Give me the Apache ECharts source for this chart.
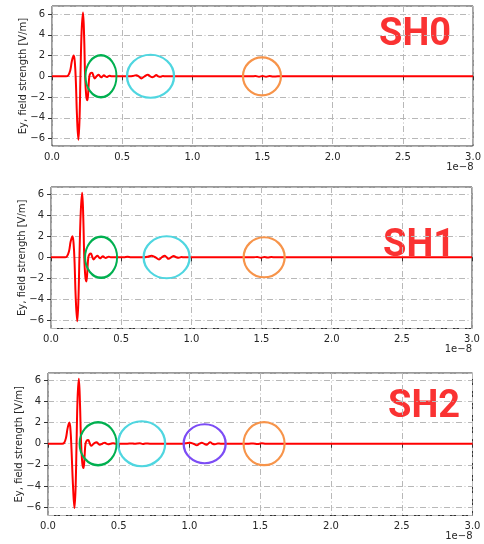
<!DOCTYPE html>
<html>
<head>
<meta charset="utf-8">
<script src="https://cdn.jsdelivr.net/npm/echarts@6/dist/echarts.min.js"></script>
<style>
html,body{margin:0;padding:0;background:#fff}
#main{width:484px;height:544px}
</style>
</head>
<body>
<div id="main"></div>
<script>
// time in units of 1e-8 s, Ey in V/m
var panelNames = ['SH0', 'SH1', 'SH2'];

var sh0 = [[0,0],[0.10,0],[0.115,0.08],[0.13,0.55],[0.142,1.5],[0.155,2.0],[0.163,1.3],[0.170,-0.5],[0.178,-3.8],[0.188,-6.1],[0.196,-4.2],[0.203,0.2],[0.211,4.3],[0.221,6.15],[0.229,3.8],[0.236,0],[0.244,-1.9],[0.252,-2.3],[0.259,-1.3],[0.266,0],[0.275,0.3],[0.285,0.35],[0.295,0.05],[0.304,-0.2],[0.318,0],[0.332,0.15],[0.342,0],[0.351,-0.1],[0.36,0],[0.37,0.1],[0.38,0],[0.391,-0.06],[0.40,0],[0.41,0.05],[0.425,0],
  [0.55,0],[0.575,0.02],[0.60,0.1],[0.618,0],[0.636,-0.2],[0.66,0],[0.683,0.15],[0.70,0],[0.715,-0.1],[0.729,0],[0.743,0.12],[0.757,0],[0.772,-0.05],[0.79,0.03],[0.81,0],
  [1.42,0],[1.45,0.03],[1.475,-0.04],[1.50,0.03],[1.525,-0.04],[1.55,0.03],[1.575,-0.02],[1.61,0],[3.0,0]];

var sh1 = [[0,0],[0.10,0],[0.113,0.08],[0.128,0.55],[0.14,1.5],[0.153,2.0],[0.161,1.3],[0.168,-0.5],[0.176,-3.8],[0.187,-6.1],[0.195,-4.2],[0.203,0.2],[0.212,4.3],[0.222,6.15],[0.23,3.8],[0.237,0],[0.245,-1.9],[0.252,-2.3],[0.259,-1.3],[0.266,0],[0.275,0.3],[0.284,0.35],[0.294,0.05],[0.303,-0.2],[0.317,0],[0.331,0.15],[0.341,0],[0.35,-0.1],[0.36,0],[0.37,0.1],[0.38,0],[0.39,-0.06],[0.40,0],[0.41,0.06],[0.425,0],
  [0.52,0],[0.545,0.05],[0.57,0],[0.66,0],[0.69,0.05],[0.715,0.15],[0.743,0],[0.77,-0.2],[0.79,0],[0.81,0.15],[0.824,0],[0.838,-0.15],[0.856,0],[0.874,0.12],[0.892,0],[0.91,-0.05],[0.93,0.02],[0.95,0],
  [1.44,0],[1.47,0.03],[1.495,-0.04],[1.52,0.03],[1.545,-0.03],[1.57,0.02],[1.60,0],[3.0,0]];

var sh2 = [[0,0],[0.10,0],[0.114,0.08],[0.127,0.55],[0.139,1.5],[0.151,2.0],[0.159,1.3],[0.166,-0.5],[0.176,-3.8],[0.187,-6.1],[0.195,-4.2],[0.202,0.2],[0.209,4.3],[0.218,6.15],[0.226,3.8],[0.234,0],[0.243,-1.9],[0.251,-2.3],[0.258,-1.3],[0.265,0],[0.274,0.3],[0.284,0.35],[0.295,0.05],[0.305,-0.2],[0.323,0],[0.343,0.15],[0.355,0],[0.366,-0.1],[0.384,0],[0.402,0.1],[0.414,0],[0.425,-0.05],[0.442,0],[0.46,0.05],[0.48,0],
  [0.56,0],[0.59,0.03],[0.61,0],[0.65,0.04],[0.67,-0.03],[0.69,0.03],[0.72,0],
  [0.95,0],[0.975,0.05],[1.004,0.1],[1.028,0],[1.052,-0.15],[1.07,0],[1.087,0.1],[1.102,0],[1.118,-0.1],[1.132,0],[1.146,0.15],[1.162,0],[1.18,-0.05],[1.20,0.02],[1.22,0],
  [1.42,0],[1.45,0.03],[1.48,-0.03],[1.51,0.04],[1.54,0],[3.0,0]];

// centres of the highlight rings (x position, on the zero line)
var sh0Rings = [0.349, 0.702, 1.496];
var sh1Rings = [0.357, 0.824, 1.519];
var sh2Rings = [0.354, 0.662, 1.107, 1.527];

var ringColor = {green: '#00b050', cyan: '#4fd6e0', purple: '#7c4cf5', orange: '#f7944a'};
var ringStyle = [
  [['green', 31, 42], ['cyan', 47, 43], ['orange', 38, 38]],
  [['green', 32, 41], ['cyan', 46, 42], ['orange', 41, 40]],
  [['green', 37, 43], ['cyan', 47, 45], ['purple', 42, 39], ['orange', 41, 43]]
];

var grids = [
  {left: 52, top: 6, width: 421.5, height: 140},
  {left: 51, top: 187, width: 421, height: 141.5},
  {left: 48, top: 373, width: 424.5, height: 142.5}
];
var yRange = [[-6.71, 6.77], [-6.79, 6.7], [-6.8, 6.7]];
var labelPos = [[379, 35], [383, 246], [388, 407]];

var series = [], xAxes = [], yAxes = [], texts = [];
var waves = [sh0, sh1, sh2];
var rings = [sh0Rings, sh1Rings, sh2Rings];
var gridLine = {show: true, lineStyle: {color: '#b8b8b8', width: 1, type: [6, 2.5, 1, 2.5]}};

for (var i = 0; i < 3; i++) {
  grids[i].show = true;
  grids[i].borderColor = '#333';
  grids[i].borderWidth = 1;
  grids[i].backgroundColor = 'transparent';
  xAxes.push({
    type: 'value', gridIndex: i, min: 0, max: 3, interval: 0.5,
    axisLine: {show: false},
    axisTick: {show: true, length: 4, lineStyle: {color: '#333'}},
    axisLabel: {color: '#262626', fontSize: 10, fontFamily: 'DejaVu Sans', margin: 6,
      formatter: function (v) { return v.toFixed(1); }},
    splitLine: gridLine
  });
  yAxes.push({
    type: 'value', gridIndex: i, min: yRange[i][0], max: yRange[i][1], splitNumber: 6,
    name: 'Ey, field strength [V/m]', nameLocation: 'middle', nameGap: 24, nameMoveOverlap: false,
    nameTextStyle: {color: '#262626', fontSize: 10, fontFamily: 'DejaVu Sans'},
    axisLine: {show: false},
    axisTick: {show: true, length: 4, lineStyle: {color: '#333'}},
    axisLabel: {color: '#262626', fontSize: 10, fontFamily: 'DejaVu Sans', margin: 7,
      showMinLabel: false, showMaxLabel: false,
      formatter: function (v) { return v < 0 ? '\u2212' + (-v) : String(v); }},
    splitLine: gridLine
  });
  series.push({
    type: 'line', xAxisIndex: i, yAxisIndex: i, data: waves[i],
    smooth: 0.4, showSymbol: false, symbol: 'none',
    lineStyle: {color: '#ff0000', width: 2}, z: 3
  });
  series.push({
    type: 'scatter', xAxisIndex: i, yAxisIndex: i, z: 4, silent: true,
    data: rings[i].map(function (x, k) {
      var s = ringStyle[i][k];
      return {value: [x, 0], symbolSize: [s[1], s[2]],
        itemStyle: {color: 'rgba(0,0,0,0)', borderColor: ringColor[s[0]], borderWidth: 2.2, opacity: 1}};
    })
  });
  texts.push({
    type: 'text', x: labelPos[i][0], y: labelPos[i][1],
    style: {text: panelNames[i], fill: '#fa3232', font: 'bold 38px Roboto', verticalAlign: 'middle'}
  });
  texts.push({
    type: 'text', x: grids[i].left + grids[i].width, y: grids[i].top + grids[i].height + 21,
    style: {text: '1e\u22128', fill: '#262626', font: '10px "DejaVu Sans"', align: 'right', verticalAlign: 'middle'}
  });
}

var chart = echarts.init(document.getElementById('main'));
chart.setOption({
  animation: false,
  grid: grids,
  xAxis: xAxes,
  yAxis: yAxes,
  series: series,
  graphic: texts
});
</script>
</body>
</html>
